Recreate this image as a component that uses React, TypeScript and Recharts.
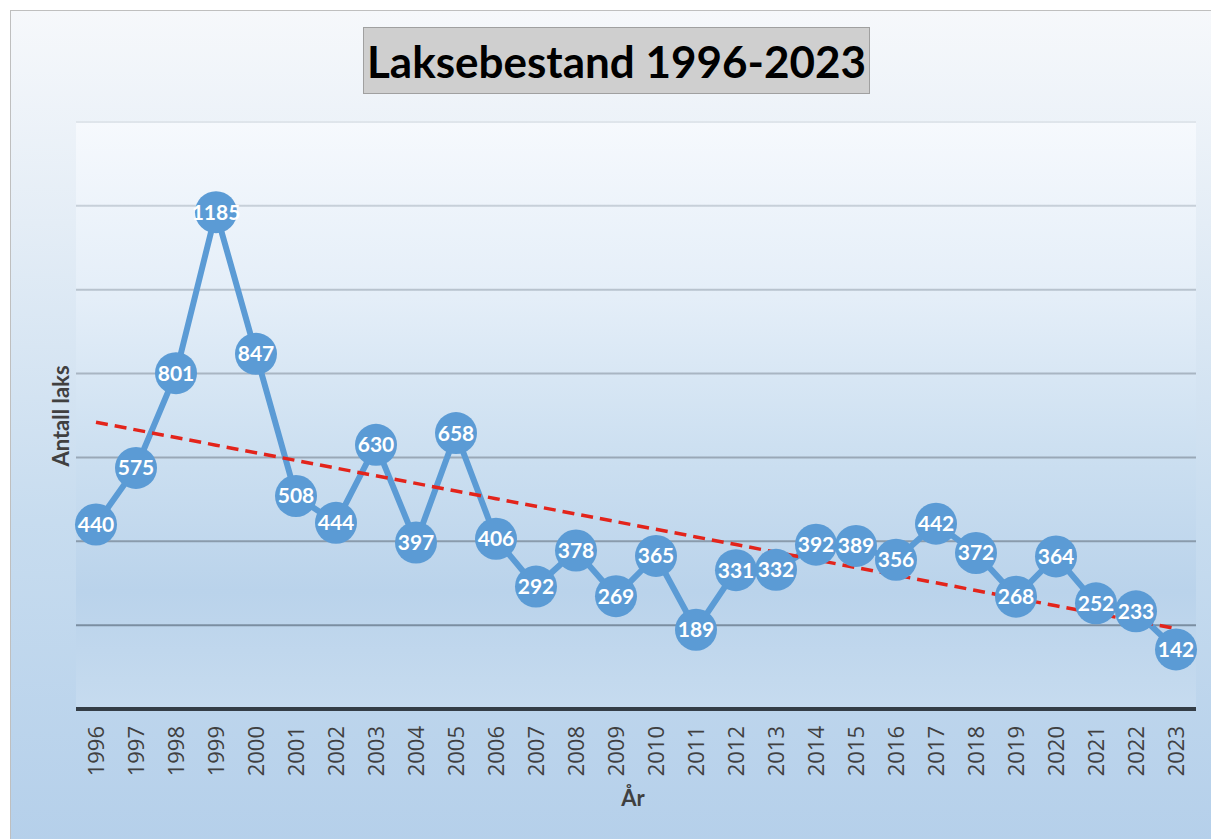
import React from "react"
import {
    LineChart,
    Line,
    XAxis,
    YAxis,
    CartesianGrid,
    LabelList
} from "recharts"

const years = [
    "1996", "1997", "1998", "1999", "2000", "2001", "2002", "2003", "2004", "2005",
    "2006", "2007", "2008", "2009", "2010", "2011", "2012", "2013", "2014", "2015",
    "2016", "2017", "2018", "2019", "2020", "2021", "2022", "2023"
]

const salmon = [
    440, 575, 801, 1185, 847, 508, 444, 630, 397, 658,
    406, 292, 378, 269, 365, 189, 331, 332, 392, 389,
    356, 442, 372, 268, 364, 252, 233, 142
]

const yTicks = [0, 200, 400, 600, 800, 1000, 1200]
const gridValues = [200, 400, 600, 800, 1000, 1200, 1400]

// linear trend (least squares), like Excel's trendline
const n = salmon.length
const meanX = (n - 1) / 2
const meanY = salmon.reduce((a, b) => a + b, 0) / n
let sxy = 0
let sxx = 0
salmon.forEach((v, i) => {
    sxy += (i - meanX) * (v - meanY)
    sxx += (i - meanX) * (i - meanX)
})
const slope = sxy / sxx
const intercept = meanY - slope * meanX

const data = years.map((year, i) => ({
    year,
    laks: salmon[i],
    trend: intercept + slope * i
}))

const YearTick = (props: any) => {
    const { x, y, payload } = props
    return (
        <text
            x={x}
            y={y}
            dy="0.36em"
            transform={`rotate(-90 ${x} ${y})`}
            textAnchor="end"
            fill="#404040"
            fontSize={22}
            fontFamily="'Open Sans', sans-serif"
        >
            {payload.value}
        </text>
    )
}

export default function App() {
    return (
        <div style={{ position: "absolute", left: 0, top: 0, width: 1211, height: 839, overflow: "hidden", background: "#fff" }}>
            <div
                style={{
                    position: "absolute",
                    left: 10,
                    top: 10,
                    width: 1220,
                    height: 850,
                    border: "1px solid #bfbfbf",
                    background: "linear-gradient(to bottom, #f6f8fb 0%, #e4edf6 25%, #c7dcef 60%, #b4cfea 100%)"
                }}
            />
            <div style={{ position: "absolute", left: 0, top: 0 }}>
                <LineChart
                    width={1211}
                    height={839}
                    data={data}
                    margin={{ top: 122, right: 15, left: 76, bottom: 98 }}
                >
                    <defs>
                        <linearGradient id="plotBg" x1="0" y1="0" x2="0" y2="1">
                            <stop offset="0%" stopColor="#f6f9fd" />
                            <stop offset="30%" stopColor="#e4eef8" />
                            <stop offset="55%" stopColor="#cde0f1" />
                            <stop offset="80%" stopColor="#bad3eb" />
                            <stop offset="100%" stopColor="#c6dbef" />
                        </linearGradient>
                        <linearGradient id="gridStroke" gradientUnits="userSpaceOnUse" x1="0" y1="122" x2="0" y2="709">
                            <stop offset="0%" stopColor="#dfe5eb" />
                            <stop offset="15%" stopColor="#c6cfd8" />
                            <stop offset="100%" stopColor="#6c8196" />
                        </linearGradient>
                    </defs>
                    <CartesianGrid
                        vertical={false}
                        horizontalValues={gridValues}
                        fill="url(#plotBg)"
                        stroke="url(#gridStroke)"
                        strokeWidth={2}
                    />
                    <XAxis
                        dataKey="year"
                        padding={{ left: 20, right: 20 }}
                        axisLine={{ stroke: "#343d46", strokeWidth: 4 }}
                        tickLine={false}
                        tickSize={6}
                        tickMargin={11}
                        interval={0}
                        height={32}
                        tick={<YearTick />}
                    />
                    <YAxis hide domain={[0, 1400]} ticks={yTicks} />
                    <Line
                        type="linear"
                        dataKey="laks"
                        stroke="#5b9bd5"
                        strokeWidth={6}
                        dot={{ r: 21, fill: "#5b9bd5", stroke: "#5b9bd5", strokeWidth: 0 }}
                        activeDot={false}
                        isAnimationActive={false}
                    >
                        <LabelList
                            dataKey="laks"
                            position="center"
                            fill="#ffffff"
                            fontSize={21}
                            fontWeight="bold"
                            fontFamily="Lato, sans-serif"
                        />
                    </Line>
                    <Line
                        type="linear"
                        dataKey="trend"
                        stroke="#e3241b"
                        strokeWidth={3.5}
                        strokeDasharray="12 7"
                        dot={false}
                        activeDot={false}
                        isAnimationActive={false}
                    />
                </LineChart>
            </div>
            <div
                style={{
                    position: "absolute",
                    left: 363,
                    top: 27,
                    width: 505,
                    height: 65,
                    background: "#cfcfcf",
                    border: "1px solid #a0a0a0",
                    display: "flex",
                    alignItems: "center",
                    justifyContent: "center",
                    fontFamily: "Lato, sans-serif",
                    fontWeight: "bold",
                    fontSize: 44,
                    color: "#000"
                }}
            >
                Laksebestand 1996-2023
            </div>
            <div
                style={{
                    position: "absolute",
                    left: 60,
                    top: 416,
                    transform: "translate(-50%, -50%) rotate(-90deg)",
                    whiteSpace: "nowrap",
                    fontFamily: "Lato, sans-serif",
                    fontWeight: "bold",
                    fontSize: 22,
                    color: "#404040"
                }}
            >
                Antall laks
            </div>
            <div
                style={{
                    position: "absolute",
                    left: 633,
                    top: 797,
                    transform: "translate(-50%, -50%)",
                    fontFamily: "Lato, sans-serif",
                    fontWeight: "bold",
                    fontSize: 22,
                    color: "#404040"
                }}
            >
                År
            </div>
        </div>
    )
}
